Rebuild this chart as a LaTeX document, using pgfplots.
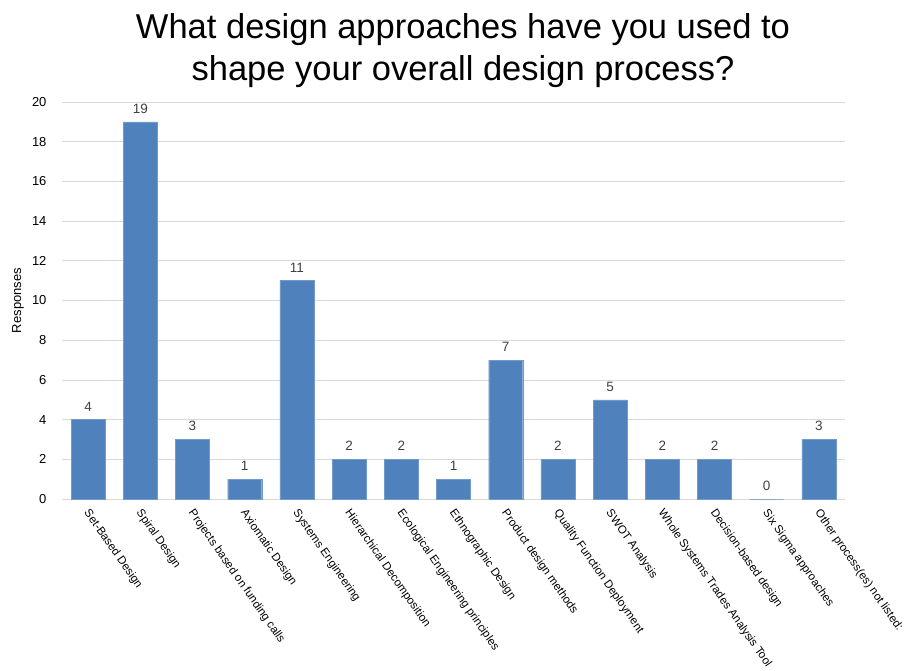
\documentclass[border=0pt]{standalone}
\usepackage{pgfplots}
\pgfplotsset{compat=1.18}
\usepackage{fontspec}
\setmainfont{Liberation Sans}
\definecolor{barblue}{HTML}{4F81BD}
\definecolor{gridgrey}{HTML}{D9D9D9}
\definecolor{lblgrey}{HTML}{404040}
\begin{document}
\begin{tikzpicture}[x=1pt,y=1pt]
\path[use as bounding box] (0,0) rectangle (904,670);
\node[align=center,font=\fontsize{34.5}{42}\selectfont] at (463,619) {What design approaches have you used to\\shape your overall design process?};
\begin{axis}[
  at={(62pt,171pt)}, anchor=south west,
  scale only axis, width=783pt, height=397pt,
  ybar, bar width=34pt,
  xmin=-0.5, xmax=14.5, ymin=0, ymax=20,
  ytick={0,2,...,20},
  xtick=data,
  xticklabels={Set-Based Design,Spiral Design,Projects based on funding calls,Axiomatic Design,Systems Engineering,Hierarchical Decomposition,Ecological Engineering principles,Ethnographic Design,Product design methods,Quality Function Deployment,SWOT Analysis,Whole Systems Trades Analysis Tool,Decision-based design,Six Sigma approaches,Other process(es) not listed:},
  x tick label style={xshift=3pt, yshift=-7.5pt, rotate=-55, anchor=north west, font=\fontsize{11.5}{13}\selectfont, inner sep=1pt},
  y tick label style={font=\fontsize{13}{15}\selectfont, xshift=-12pt},
  /pgf/number format/assume math mode=true,
  ylabel={Responses},
  every axis y label/.style={at={(rel axis cs:0,0.5)}, xshift=-44pt, rotate=90, anchor=center, font=\fontsize{13}{15}\selectfont},
  ymajorgrids, grid style={gridgrey, line width=0.8pt},
  axis x line*=bottom, axis y line*=left,
  x axis line style={gridgrey, line width=1pt},
  y axis line style={draw=none},
  major tick length=0pt,
  nodes near coords,
  every node near coord/.append style={font=\fontsize{13.5}{15}\selectfont, text=lblgrey, yshift=5pt},
  clip=false,
]
\addplot[fill=barblue, draw=barblue!80!white] coordinates {
(0,4) (1,19) (2,3) (3,1) (4,11) (5,2) (6,2) (7,1) (8,7) (9,2) (10,5) (11,2) (12,2) (13,0) (14,3)};
\end{axis}
\end{tikzpicture}
\end{document}
